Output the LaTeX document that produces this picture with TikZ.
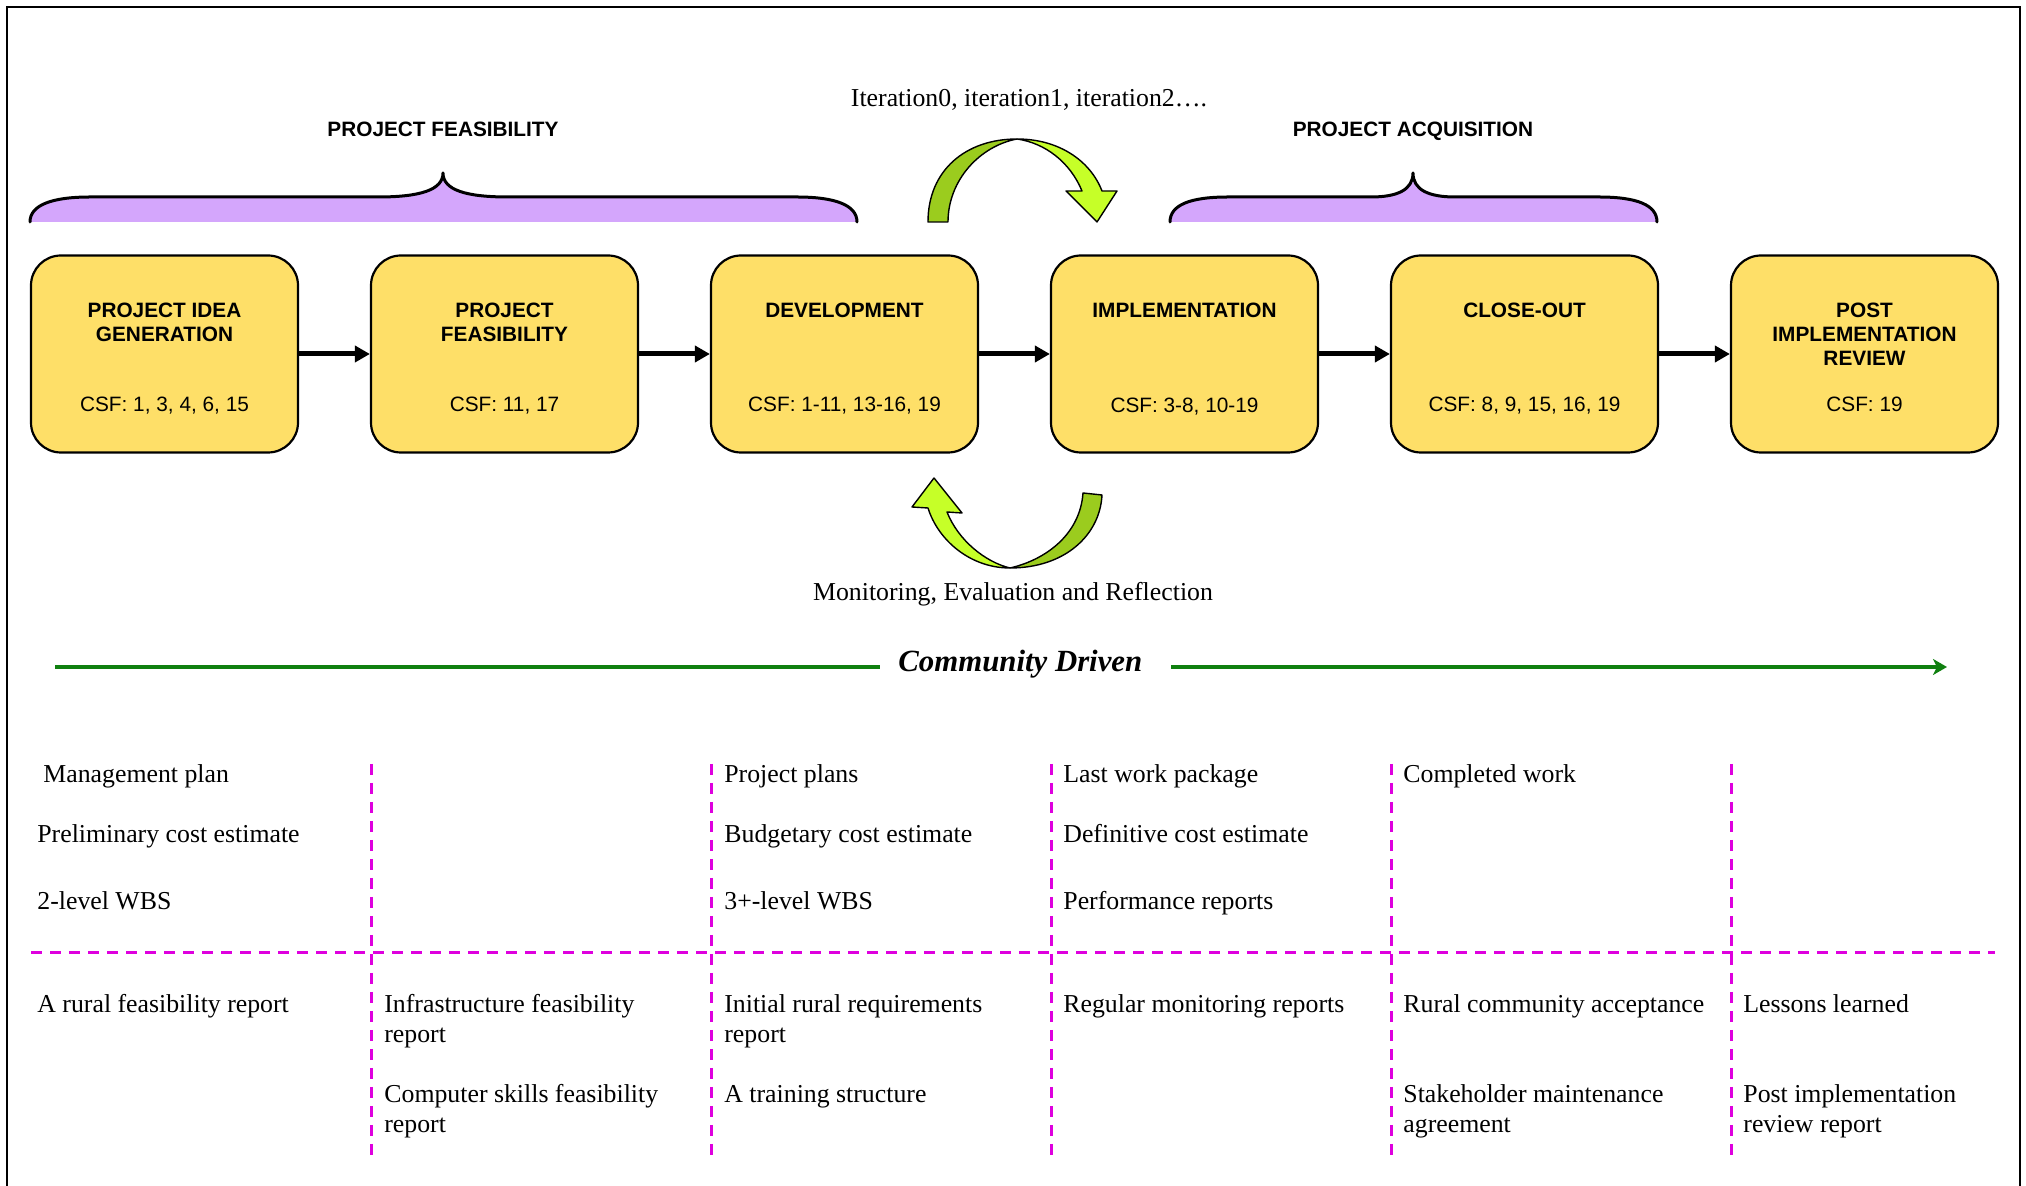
\documentclass[tikz,border=0pt]{standalone}
\usepackage{fontspec}
\setmainfont{Liberation Serif}
\newfontfamily\arialf{Liberation Sans}
\usetikzlibrary{arrows.meta}

\definecolor{boxfill}{RGB}{254,223,104}
\definecolor{bracefill}{RGB}{212,166,252}
\definecolor{greendark}{RGB}{155,204,30}
\definecolor{greenlight}{RGB}{198,255,40}
\definecolor{linegreen}{RGB}{16,128,16}
\definecolor{gridmag}{RGB}{222,0,222}

\begin{document}
\begin{tikzpicture}[x=0.5pt,y=-0.5pt,
  stage/.style={draw=black, line width=1.1pt, fill=boxfill, rounded corners=15pt,
    minimum width=133.5pt, minimum height=98.5pt, inner sep=0pt},
  stagetitle/.style={font=\arialf\bfseries\fontsize{10.4}{12}\selectfont,
    align=center, anchor=north, inner sep=0pt},
  csf/.style={font=\arialf\fontsize{10.4}{12}\selectfont, anchor=base, inner sep=0pt},
  phase/.style={font=\arialf\bfseries\fontsize{10.4}{12}\selectfont, anchor=base, inner sep=0pt},
  flow/.style={line width=2.5pt, -{Triangle[length=7.5pt,width=8pt]}},
  bracebody/.style={fill=bracefill},
  braceline/.style={line width=1.5pt, line cap=round, line join=round},
  cyclearrow/.style={draw=black, line width=0.7pt, line join=round},
  % multi-line items are placed by the baseline of their last line
  item/.style={font=\fontsize{12.9}{14.75}\selectfont, anchor=base west, align=left, inner sep=0pt},
  note/.style={font=\fontsize{12.9}{14.75}\selectfont, anchor=base, inner sep=0pt},
  commline/.style={draw=linegreen, line width=2pt},
  gridline/.style={draw=gridmag, line width=1.5pt, dash pattern=on 5.5pt off 4pt},
]
\useasboundingbox (0,0) rectangle (2026,1186);

% outer frame (open at the bottom)
\draw[line width=1.1pt] (7,1195) -- (7,7) -- (2020,7) -- (2020,1195);

% phase braces
\fill[bracebody] (30,222) .. controls (30,205) and (52,197) .. (90,197) -- (378,197)
  .. controls (420,197) and (443,190) .. (443,173) .. controls (443,190) and (466,197) .. (508,197)
  -- (797,197) .. controls (835,197) and (857,205) .. (857,222) -- cycle;
\draw[braceline] (30,222) .. controls (30,205) and (52,197) .. (90,197) -- (378,197)
  .. controls (420,197) and (443,190) .. (443,173) .. controls (443,190) and (466,197) .. (508,197)
  -- (797,197) .. controls (835,197) and (857,205) .. (857,222);
\fill[bracebody] (1170,222) .. controls (1170,205) and (1190,197) .. (1228,197) -- (1371,197)
  .. controls (1397,197) and (1413,190) .. (1413,173) .. controls (1413,190) and (1429,197) .. (1455,197)
  -- (1599,197) .. controls (1637,197) and (1657,205) .. (1657,222) -- cycle;
\draw[braceline] (1170,222) .. controls (1170,205) and (1190,197) .. (1228,197) -- (1371,197)
  .. controls (1397,197) and (1413,190) .. (1413,173) .. controls (1413,190) and (1429,197) .. (1455,197)
  -- (1599,197) .. controls (1637,197) and (1657,205) .. (1657,222);
\node[phase] (pf) at (443,136.5) {PROJECT FEASIBILITY};
\node[phase] (pa) at (1413,136.5) {PROJECT ACQUISITION};

% iteration arrow above
\draw[cyclearrow, fill=greendark] (928,222) .. controls (928,170) and (966,139) .. (1017,139)
  .. controls (980,146) and (948,180) .. (948,222) -- cycle;
\draw[cyclearrow, fill=greenlight] (1017,139) .. controls (1058,139) and (1090,160) .. (1102,191)
  -- (1117,191) -- (1097,222) -- (1066,191) -- (1082,191)
  .. controls (1070,162) and (1045,143) .. (1017,139) -- cycle;
\node[note] (iter) at (1029,106.5) {Iteration0, iteration1, iteration2….};

% monitoring arrow below
\draw[cyclearrow, fill=greendark] (1102,495) .. controls (1100,535) and (1065,568) .. (1010,568)
  .. controls (1045,560) and (1080,535) .. (1083,493) -- cycle;
\draw[cyclearrow, fill=greenlight] (1010,568) .. controls (970,568) and (938,540) .. (928,508)
  -- (912,507) -- (934,478) -- (962,513) -- (947,512)
  .. controls (958,540) and (985,562) .. (1010,568) -- cycle;
\node[note] (mer) at (1013,601) {Monitoring, Evaluation and Reflection};

% stages
\node[stage] (b1) at (164.5,354) {};
\node[stage] (b2) at (504.5,354) {};
\node[stage] (b3) at (844.5,354) {};
\node[stage] (b4) at (1184.5,354) {};
\node[stage] (b5) at (1524.5,354) {};
\node[stage] (b6) at (1864.5,354) {};

\node[stagetitle] (t1) at (164.5,302.5) {PROJECT IDEA\\GENERATION};
\node[stagetitle] (t2) at (504.5,302.5) {PROJECT\\FEASIBILITY};
\node[stagetitle] (t3) at (844.5,302.5) {DEVELOPMENT};
\node[stagetitle] (t4) at (1184.5,302.5) {IMPLEMENTATION};
\node[stagetitle] (t5) at (1524.5,302.5) {CLOSE-OUT};
\node[stagetitle] (t6) at (1864.5,302.5) {POST\\IMPLEMENTATION\\REVIEW};

\node[csf] (c1) at (164.5,412) {CSF: 1, 3, 4, 6, 15};
\node[csf] (c2) at (504.5,412) {CSF: 11, 17};
\node[csf] (c3) at (844.5,412) {CSF: 1-11, 13-16, 19};
\node[csf] (c4) at (1184.5,413) {CSF: 3-8, 10-19};
\node[csf] (c5) at (1524.5,412) {CSF: 8, 9, 15, 16, 19};
\node[csf] (c6) at (1864.5,412) {CSF: 19};

\draw[flow] (b1.east) -- (b2.west);
\draw[flow] (b2.east) -- (b3.west);
\draw[flow] (b3.east) -- (b4.west);
\draw[flow] (b4.east) -- (b5.west);
\draw[flow] (b5.east) -- (b6.west);

% community driven timeline
\node[font=\bfseries\itshape\fontsize{15.4}{18}\selectfont, anchor=base west, inner sep=0pt]
  (cd) at (898,672) {Community Driven};
\coordinate (cdstart) at (55,667);
\coordinate (cdA) at (880,667);
\coordinate (cdB) at (1171,667);
\coordinate (cdend) at (1947,667);
\draw[commline] (cdstart) -- (cdA);
\draw[commline, -{Stealth[length=7pt,width=8pt,inset=2pt]}] (cdB) -- (cdend);

% deliverables grid
\foreach \x in {371,711,1051,1391,1731}
  \draw[gridline] (\x,764) -- (\x,1156);
\draw[gridline] (31,953) -- (1995,953);

\node[item] (d11) at (43,783) {Management plan};
\node[item] (d12) at (37,843) {Preliminary cost estimate};
\node[item] (d13) at (37,910) {2-level WBS};
\node[item] (d14) at (37,1013) {A rural feasibility report};

\node[item] (d21) at (384,1042.5) {Infrastructure feasibility\\report};
\node[item] (d22) at (384,1132.5) {Computer skills feasibility\\report};

\node[item] (d31) at (724,783) {Project plans};
\node[item] (d32) at (724,843) {Budgetary cost estimate};
\node[item] (d33) at (724,910) {3+-level WBS};
\node[item] (d34) at (724,1042.5) {Initial rural requirements\\report};
\node[item] (d35) at (724,1103) {A training structure};

\node[item] (d41) at (1063,783) {Last work package};
\node[item] (d42) at (1063,843) {Definitive cost estimate};
\node[item] (d43) at (1063,910) {Performance reports};
\node[item] (d44) at (1063,1013) {Regular monitoring reports};

\node[item] (d51) at (1403,783) {Completed work};
\node[item] (d52) at (1403,1013) {Rural community acceptance};
\node[item] (d53) at (1403,1132.5) {Stakeholder maintenance\\agreement};

\node[item] (d61) at (1743,1013) {Lessons learned};
\node[item] (d62) at (1743,1132.5) {Post implementation\\review report};

\end{tikzpicture}
\end{document}
